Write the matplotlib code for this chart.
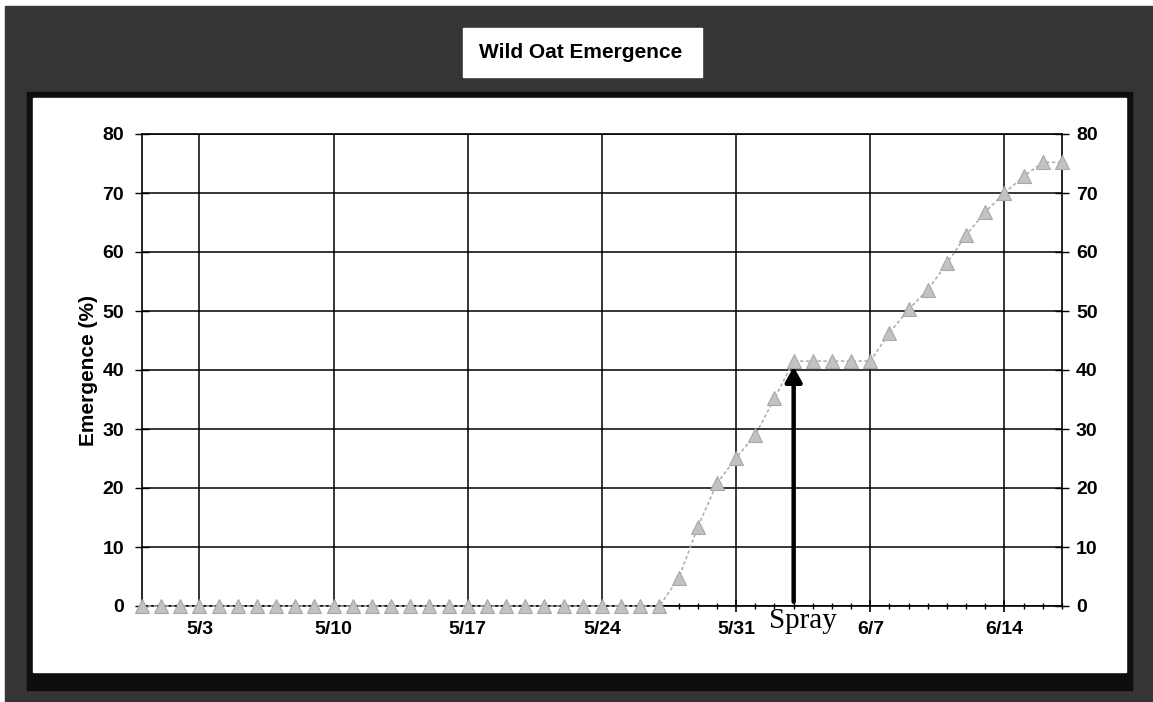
import matplotlib.pyplot as plt
import matplotlib.dates as mdates
from matplotlib.patches import Rectangle
from matplotlib.ticker import FuncFormatter
import pandas as pd

# daily wild oat emergence (%), 4/30 .. 6/17
start_date = "2004-04-30"
emergence = [
    0, 0, 0, 0, 0, 0, 0, 0, 0, 0, 0, 0, 0, 0,
    0, 0, 0, 0, 0, 0, 0, 0, 0, 0, 0, 0, 0, 0,
    4.7, 13.4, 20.8, 25.1, 29.0, 35.2, 41.5, 41.5, 41.5, 41.5, 41.5,
    46.3, 50.3, 53.6, 58.1, 62.9, 66.8, 70.0, 72.8, 75.2, 75.2,
]
spray_date = "2004-06-03"
y_ticks = [0, 10, 20, 30, 40, 50, 60, 70, 80]
title = "Wild Oat Emergence"
y_label = "Emergence (%)"
spray_label = "Spray"

W, H = 1153, 702

plt.rcParams['font.family'] = ['Liberation Sans', 'DejaVu Sans']
plt.rcParams['font.weight'] = 'bold'

fig = plt.figure(figsize=(W / 100, H / 100), dpi=100)
fig.patch.set_facecolor('white')


def box(x0, y0, x1, y1, color):
    # rectangle given in image pixels (y from top)
    fig.patches.append(Rectangle((x0 / W, 1 - y1 / H), (x1 - x0) / W, (y1 - y0) / H,
                                 transform=fig.transFigure, color=color, zorder=-10))


box(5, 6, W, H, '#353535')        # scanned dark border
box(27, 92, 1132, 690, '#0e0e0e')  # black edge round the chart area
box(33, 98, 1126, 672, 'white')    # chart area
box(463, 28, 702, 77, 'white')     # title box
fig.text(581 / W, 1 - 53 / H, title, ha='center', va='center', fontsize=15, fontweight='bold')

dates = pd.date_range(start_date, periods=len(emergence), freq='D')
spray = pd.Timestamp(spray_date)
spray_value = emergence[list(dates).index(spray)]

ax = fig.add_axes([142 / W, 1 - 606 / H, 920 / W, (606 - 134) / H])
ax.plot(dates, emergence, color='#b0b0b0', lw=1.2, ls=(0, (2, 1.5)),
        marker='^', ms=10, mfc='#c2c2c2', mec='#a8a8a8', mew=0.8,
        clip_on=False, zorder=3)

ax.set_xlim(dates[0], dates[-1])
ax.set_ylim(0, 80)
ax.set_yticks(y_ticks)
ax.set_xticks(dates[3::7])
ax.set_xticks(dates, minor=True)
ax.xaxis.set_major_formatter(FuncFormatter(
    lambda v, pos: f"{mdates.num2date(v).month}/{mdates.num2date(v).day}"))
ax.grid(True, which='major', color='black', lw=1.1)
for s in ax.spines.values():
    s.set_color('black')
    s.set_linewidth(1.2)
ax.tick_params(axis='y', which='major', direction='inout', length=10, width=1,
               left=True, right=False, labelsize=14, pad=8)
ax.tick_params(axis='x', which='major', direction='inout', length=8, width=1.2,
               labelsize=14, pad=7)
ax.tick_params(axis='x', which='minor', direction='inout', length=5, width=1)
ax.set_ylabel(y_label, fontsize=15, fontweight='bold', labelpad=3)

ax2 = ax.twinx()
ax2.set_ylim(0, 80)
ax2.set_yticks(y_ticks)
ax2.tick_params(axis='y', direction='inout', length=10, width=1, labelsize=14, pad=5)
for s in ax2.spines.values():
    s.set_visible(False)

# spray arrow and label
ax.annotate('', xy=(spray, spray_value), xytext=(spray, 0),
            arrowprops=dict(arrowstyle='-|>,head_length=0.45,head_width=0.25',
                            lw=3.2, color='black', shrinkA=3, shrinkB=4,
                            mutation_scale=20), zorder=5)
ax.annotate(spray_label, xy=(spray, 0), xytext=(7, -16), textcoords='offset points',
            ha='center', va='baseline', fontsize=21, fontweight='normal',
            family='Liberation Serif', annotation_clip=False)

fig.savefig("out.png", dpi=100, facecolor=fig.get_facecolor())
